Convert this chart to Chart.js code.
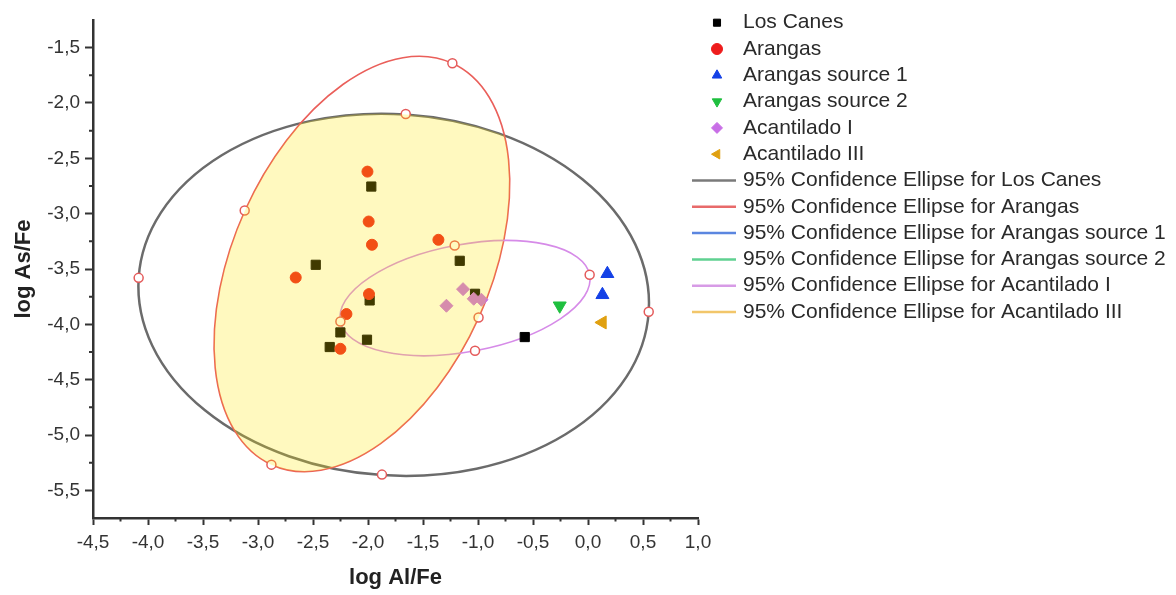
<!DOCTYPE html>
<html>
<head>
<meta charset="utf-8">
<script src="https://cdn.jsdelivr.net/npm/chart.js@4.4.1/dist/chart.umd.min.js"></script>
<style>
  body { margin: 0; background: #fff; }
  canvas { display: block; }
</style>
</head>
<body>
<canvas id="mychart" width="1176" height="595"></canvas>
<script>
// groups in the legend
const groups = ['Los Canes', 'Arangas', 'Arangas source 1', 'Arangas source 2', 'Acantilado I', 'Acantilado III'];

// samples: log Al/Fe (x) and log As/Fe (y)
const losCanesX = [-1.97, -2.475, -1.166, -1.027, -1.985, -2.251, -2.009, -2.348, -0.575];
const losCanesY = [-2.755, -3.462, -3.426, -3.724, -3.784, -4.073, -4.139, -4.205, -4.115];
const arangasX = [-2.005, -1.994, -1.964, -1.36, -2.657, -1.991, -2.196, -2.251];
const arangasY = [-2.62, -3.071, -3.281, -3.236, -3.577, -3.727, -3.907, -4.221];
const source1X = [0.176, 0.131];
const source1Y = [-3.543, -3.733];
const source2X = [-0.257];
const source2Y = [-3.832];
const acantilado1X = [-1.136, -1.287, -1.039, -0.969];
const acantilado1Y = [-3.682, -3.832, -3.769, -3.778];
const acantilado3X = [0.131];
const acantilado3Y = [-3.983];

// ends of the ellipse axes (open circles), 4 per ellipse:
// major end a, major end b, minor end a, minor end b
// ellipse 0 = Los Canes, 1 = Arangas, 2 = Acantilado I
const axisEndX = [-4.085, 0.552, -1.657, -1.873, -1.233, -2.878, -3.121, -0.995, -2.251, 0.015, -1.212, -1.027];
const axisEndY = [-3.58, -3.886, -2.099, -5.358, -1.641, -5.268, -2.972, -3.938, -3.974, -3.552, -3.288, -4.239];

// axes
const xMin = -4.5, xMax = 1.0;
const yMin = -5.75, yMax = -1.25;
const xTickValues = [-4.5, -4.0, -3.5, -3.0, -2.5, -2.0, -1.5, -1.0, -0.5, 0.0, 0.5, 1.0];
const yTickValues = [-5.5, -5.0, -4.5, -4.0, -3.5, -3.0, -2.5, -2.0, -1.5];
const xMinorTicks = [-4.25, -3.75, -3.25, -2.75, -2.25, -1.75, -1.25, -0.75, -0.25, 0.25, 0.75];
const yMinorTicks = [-5.25, -4.75, -4.25, -3.75, -3.25, -2.75, -2.25, -1.75];
const fmt = v => v.toFixed(1).replace('.', ',');

const ellipseStroke = ['#6b6b6b', '#ea5f5a', '#d68be8'];
const ellipseWidth = [2.5, 1.6, 1.6];
const legendLineColors = ['#7a7a7a', '#e86a6a', '#5b86e0', '#5fd191', '#d79be6', '#f2c66a'];
const fillColor = 'rgba(255, 232, 0, 0.25)';

const pts = (xs, ys) => xs.map((x, i) => ({ x: x, y: ys[i] }));

function ellipsePath(ctx, chart, k) {
    const sx = chart.scales.x, sy = chart.scales.y;
    const p = [0, 1, 2, 3].map(j => ({
        x: sx.getPixelForValue(axisEndX[4 * k + j]),
        y: sy.getPixelForValue(axisEndY[4 * k + j])
    }));
    const cx = (p[0].x + p[1].x) / 2, cy = (p[0].y + p[1].y) / 2;
    const ux = (p[1].x - p[0].x) / 2, uy = (p[1].y - p[0].y) / 2;
    const vx = (p[3].x - p[2].x) / 2, vy = (p[3].y - p[2].y) / 2;
    ctx.save();
    ctx.transform(ux, uy, vx, vy, cx, cy);
    ctx.moveTo(1, 0);
    ctx.arc(0, 0, 1, 0, Math.PI * 2, ux * vy - uy * vx < 0);
    ctx.restore();
    return cy;
}

const ellipsePlugin = {
    id: 'ellipses',
    beforeDatasetsDraw: (chart) => {
        const ctx = chart.ctx, a = chart.chartArea;
        ctx.save();
        ctx.beginPath();
        ctx.rect(a.left, a.top, a.right - a.left, a.bottom - a.top);
        ctx.clip();
        for (let k = 0; k < 3; k++) {
            ctx.beginPath();
            ellipsePath(ctx, chart, k);
            ctx.strokeStyle = ellipseStroke[k];
            ctx.lineWidth = ellipseWidth[k];
            ctx.stroke();
        }
        ctx.restore();
    },
    afterDatasetsDraw: (chart) => {
        // yellow shading inside the Arangas ellipse, cut by the top of the Los Canes one
        const ctx = chart.ctx, a = chart.chartArea;
        ctx.save();
        ctx.beginPath();
        ctx.rect(a.left, a.top, a.right - a.left, a.bottom - a.top);
        ctx.clip();
        ctx.beginPath();
        ellipsePath(ctx, chart, 1);
        ctx.clip();
        ctx.beginPath();
        const gcy = ellipsePath(ctx, chart, 0);
        ctx.rect(a.left, gcy, a.right - a.left, a.bottom - gcy);
        ctx.clip();
        ctx.fillStyle = fillColor;
        ctx.fillRect(a.left, a.top, a.right - a.left, a.bottom - a.top);
        ctx.restore();
    }
};

const minorTicksPlugin = {
    id: 'minorTicks',
    afterDraw: (chart) => {
        const ctx = chart.ctx, a = chart.chartArea;
        const sx = chart.scales.x, sy = chart.scales.y;
        ctx.save();
        ctx.strokeStyle = '#333';
        ctx.lineWidth = 2;
        ctx.beginPath();
        xMinorTicks.forEach(v => {
            const px = sx.getPixelForValue(v);
            ctx.moveTo(px, a.bottom);
            ctx.lineTo(px, a.bottom + 3.5);
        });
        yMinorTicks.forEach(v => {
            const py = sy.getPixelForValue(v);
            ctx.moveTo(a.left, py);
            ctx.lineTo(a.left - 4, py);
        });
        ctx.stroke();
        ctx.restore();
    }
};

const legendPlugin = {
    id: 'sideLegend',
    afterDraw: (chart) => {
        const ctx = chart.ctx;
        const y0 = 22.7, dy = 26.3;
        ctx.save();
        ctx.font = '21px "Liberation Sans", Arial, sans-serif';
        ctx.textBaseline = 'middle';
        ctx.textAlign = 'left';
        groups.forEach((g, i) => {
            const ds = chart.data.datasets[i];
            const y = y0 + dy * i;
            ctx.fillStyle = ds.backgroundColor;
            ctx.strokeStyle = ds.backgroundColor;
            Chart.helpers.drawPoint(ctx, {
                pointStyle: ds.pointStyle,
                rotation: ds.pointRotation || 0,
                radius: ds.pointStyle === 'rect' ? 5 : 5.5,
                borderWidth: 1
            }, 717, y);
            ctx.fillStyle = '#2a2a2a';
            ctx.fillText(g, 743, y);
        });
        groups.forEach((g, i) => {
            const y = y0 + dy * (i + 6);
            ctx.beginPath();
            ctx.moveTo(692, y);
            ctx.lineTo(736, y);
            ctx.strokeStyle = legendLineColors[i];
            ctx.lineWidth = 2.5;
            ctx.stroke();
            ctx.fillStyle = '#2a2a2a';
            ctx.fillText('95% Confidence Ellipse for ' + g, 743, y);
        });
        ctx.restore();
    }
};

const ctx = document.getElementById('mychart');

var chart = new Chart(ctx, {
    type: 'scatter',
    data: {
        datasets: [{
            label: groups[0],
            data: pts(losCanesX, losCanesY),
            pointStyle: 'rect',
            pointRadius: 6.5,
            backgroundColor: '#000000',
            borderColor: '#000000',
            borderWidth: 1,
            order: 6
        }, {
            label: groups[1],
            data: pts(arangasX, arangasY),
            pointStyle: 'circle',
            pointRadius: 5.5,
            backgroundColor: '#ee1c1c',
            borderColor: '#ee1c1c',
            borderWidth: 1,
            order: 5
        }, {
            label: groups[2],
            data: pts(source1X, source1Y),
            pointStyle: 'triangle',
            pointRadius: 7.5,
            backgroundColor: '#1441e6',
            borderColor: '#1441e6',
            borderWidth: 1,
            order: 4
        }, {
            label: groups[3],
            data: pts(source2X, source2Y),
            pointStyle: 'triangle',
            pointRotation: 180,
            pointRadius: 7.5,
            backgroundColor: '#1fbf3f',
            borderColor: '#1fbf3f',
            borderWidth: 1,
            order: 3
        }, {
            label: groups[4],
            data: pts(acantilado1X, acantilado1Y),
            pointStyle: 'rectRot',
            pointRadius: 6.5,
            backgroundColor: '#c86ee6',
            borderColor: '#c86ee6',
            borderWidth: 1,
            order: 2
        }, {
            label: groups[5],
            data: pts(acantilado3X, acantilado3Y),
            pointStyle: 'triangle',
            pointRotation: -90,
            pointRadius: 7.5,
            backgroundColor: '#e0a010',
            borderColor: '#e0a010',
            borderWidth: 1,
            order: 1
        }, {
            label: 'axis ends',
            data: pts(axisEndX, axisEndY),
            pointStyle: 'circle',
            pointRadius: 4.5,
            backgroundColor: '#ffffff',
            borderColor: '#e45a5a',
            borderWidth: 1.5,
            order: 0
        }]
    },
    options: {
        responsive: false,
        animation: false,
        layout: {
            padding: { left: 0, top: 20, right: 478, bottom: 0 }
        },
        scales: {
            x: {
                type: 'linear',
                min: xMin,
                max: xMax,
                afterFit: (s) => { s.height = 77; },
                afterBuildTicks: (s) => { s.ticks = xTickValues.map(v => ({ value: v })); },
                ticks: {
                    callback: (v) => fmt(v),
                    color: '#333',
                    font: { family: '"Liberation Sans", Arial, sans-serif', size: 19 },
                    padding: 6,
                    maxRotation: 0,
                    autoSkip: false
                },
                grid: {
                    drawOnChartArea: false,
                    tickLength: 7,
                    tickColor: '#333',
                    tickWidth: 2
                },
                border: { color: '#333', width: 2.5 },
                title: {
                    display: true,
                    text: 'log Al/Fe',
                    color: '#222',
                    font: { family: '"Liberation Sans", Arial, sans-serif', size: 22, weight: 'bold' },
                    padding: { top: 0, bottom: 4 }
                }
            },
            y: {
                type: 'linear',
                min: yMin,
                max: yMax,
                afterFit: (s) => { s.width = 93; },
                afterBuildTicks: (s) => { s.ticks = yTickValues.map(v => ({ value: v })); },
                ticks: {
                    callback: (v) => fmt(v),
                    color: '#333',
                    font: { family: '"Liberation Sans", Arial, sans-serif', size: 19 },
                    padding: 5,
                    autoSkip: false
                },
                grid: {
                    drawOnChartArea: false,
                    tickLength: 8,
                    tickColor: '#333',
                    tickWidth: 2
                },
                border: { color: '#333', width: 2.5 },
                title: {
                    display: true,
                    text: 'log As/Fe',
                    color: '#222',
                    font: { family: '"Liberation Sans", Arial, sans-serif', size: 22, weight: 'bold' },
                    padding: { top: 11, bottom: 0 }
                }
            }
        },
        plugins: {
            legend: { display: false },
            tooltip: { enabled: false }
        }
    },
    plugins: [ellipsePlugin, minorTicksPlugin, legendPlugin]
});
</script>
</body>
</html>
